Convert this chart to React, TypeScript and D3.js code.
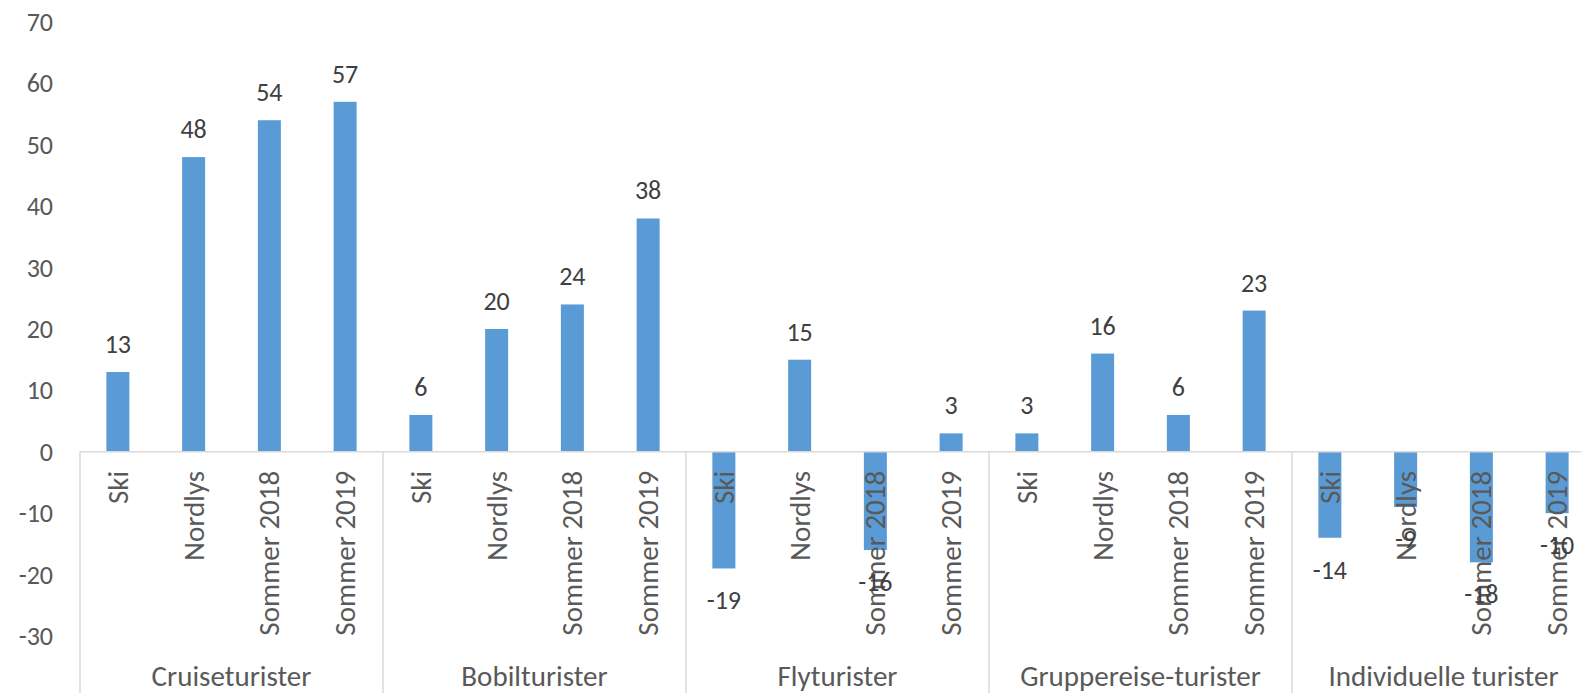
import React from "react";
import * as d3 from "d3";

const groups = ["Cruiseturister", "Bobilturister", "Flyturister", "Gruppereise-turister", "Individuelle turister"];
const seasons = ["Ski", "Nordlys", "Sommer 2018", "Sommer 2019"];
const cruiseValues = [13, 48, 54, 57];
const bobilValues = [6, 20, 24, 38];
const flyValues = [-19, 15, -16, 3];
const gruppeValues = [3, 16, 6, 23];
const individValues = [-14, -9, -18, -10];
const seriesByGroup = [cruiseValues, bobilValues, flyValues, gruppeValues, individValues];
const yTicks = [-30, -20, -10, 0, 10, 20, 30, 40, 50, 60, 70];

const W = 1581;
const H = 693;
const FONT = "Carlito, Calibri, Lato, sans-serif";
const NUM_SIZE = 26;
const WORD_SIZE = 29;

export default function App() {
  const left = 80;
  const groupW = 303;
  const x = d3.scaleLinear().domain([0, groups.length]).range([left, left + groupW * groups.length]);
  const y = d3.scaleLinear().domain([-30, 70]).range([636, 22]);
  const catW = groupW / seasons.length;
  const barW = 23;
  const zeroY = y(0);

  const bars: any[] = [];
  seriesByGroup.forEach((vals, gi) => {
    vals.forEach((v, si) => {
      const cx = x(gi) + catW * (si + 0.5);
      bars.push({ gi, si, v, cx });
    });
  });

  return (
    <svg width={W} height={H} style={{ position: "absolute", left: 0, top: 0, background: "#fff" }} fontFamily={FONT}>
      {yTicks.map((t) => (
        <text key={t} x={53} y={y(t)} textAnchor="end" dominantBaseline="central" fontSize={NUM_SIZE} fill="#595959">
          {t}
        </text>
      ))}
      {bars.map((b) => (
        <rect
          key={`b${b.gi}-${b.si}`}
          x={b.cx - barW / 2}
          y={Math.min(y(b.v), zeroY)}
          width={barW}
          height={Math.abs(y(b.v) - zeroY)}
          fill="#5b9bd5"
        />
      ))}
      <line x1={left} x2={W} y1={zeroY} y2={zeroY} stroke="#d9d9d9" strokeWidth={1.5} />
      {d3.range(groups.length + 1).map((i) => (
        <line key={`sep${i}`} x1={x(i)} x2={x(i)} y1={zeroY} y2={H} stroke="#d9d9d9" strokeWidth={1.5} />
      ))}
      {bars.map((b) => (
        <text
          key={`c${b.gi}-${b.si}`}
          transform={`translate(${b.cx},${zeroY + 19}) rotate(-90)`}
          textAnchor="end"
          dominantBaseline="central"
          fontSize={WORD_SIZE}
          fill="#595959"
        >
          {seasons[b.si]}
        </text>
      ))}
      {bars.map((b) => (
        <text
          key={`v${b.gi}-${b.si}`}
          x={b.cx}
          y={b.v >= 0 ? y(b.v) - 28 : y(b.v) + 32}
          textAnchor="middle"
          dominantBaseline="central"
          fontSize={NUM_SIZE}
          fill="#404040"
        >
          {b.v}
        </text>
      ))}
      {groups.map((g, i) => (
        <text key={g} x={x(i) + groupW / 2} y={676} textAnchor="middle" dominantBaseline="central" fontSize={WORD_SIZE} fill="#595959">
          {g}
        </text>
      ))}
    </svg>
  );
}
